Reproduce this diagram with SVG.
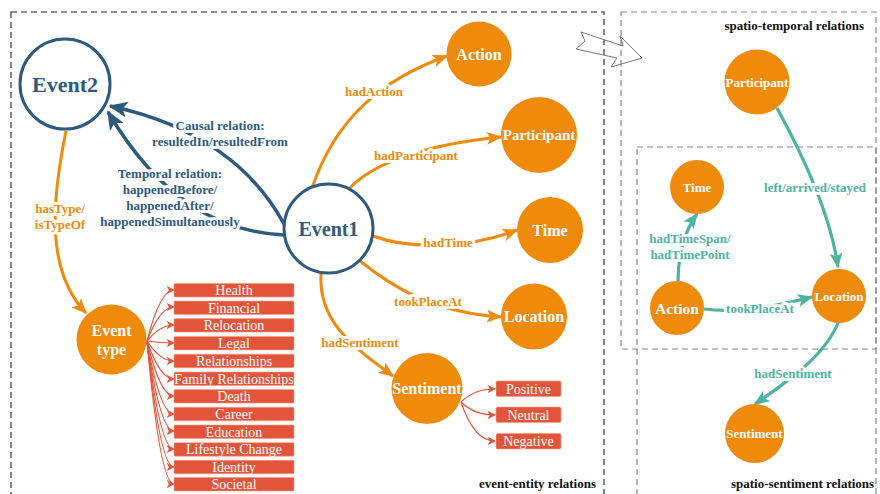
<svg xmlns="http://www.w3.org/2000/svg" width="880" height="494" viewBox="0 0 880 494">
<style>
.frameL{fill:none;stroke:#222;stroke-width:1.1;stroke-dasharray:6 4}
.frameR{fill:none;stroke:#888;stroke-width:1.2;stroke-dasharray:6 4}
.title{font-family:"Liberation Serif",serif;font-weight:bold;font-size:13px;fill:#111}
.nav{fill:#fff;stroke:#2d5a7d;stroke-width:3}
.navT{font-family:"Liberation Serif",serif;font-weight:bold;fill:#2d5a7d;text-anchor:middle}
.org{fill:#ef8a0b}
.nodeT{font-family:"Liberation Serif",serif;font-weight:bold;fill:#fff;text-anchor:middle}
.cat{fill:#e2553b;stroke:#f3a08f;stroke-width:0.6}
.catT{font-family:"Liberation Serif",serif;font-size:14px;fill:#fff;text-anchor:middle}
.eN{fill:none;stroke:#2d5a7d;stroke-width:3.5}
.eO{fill:none;stroke:#ef8a0b;stroke-width:3}
.eT{fill:none;stroke:#4db3a0;stroke-width:3.2}
.eR{fill:none;stroke:#e2553b;stroke-width:1.2}
.lab{font-family:"Liberation Serif",serif;font-weight:bold;font-size:13px;text-anchor:middle;stroke:#fff;stroke-width:6;paint-order:stroke;stroke-linejoin:round}
.lN{fill:#2d5a7d}
.lO{fill:#ef8a0b}
.lT{fill:#4db3a0}
</style>
<defs>
<marker id="aN" viewBox="0 0 12 10" refX="11" refY="5" markerWidth="20" markerHeight="16" orient="auto" markerUnits="userSpaceOnUse"><path d="M0,0 L12,5 L0,10 L3,5 z" fill="#2d5a7d"/></marker>
<marker id="aO" viewBox="0 0 12 10" refX="11" refY="5" markerWidth="16" markerHeight="13" orient="auto" markerUnits="userSpaceOnUse"><path d="M0,0 L12,5 L0,10 L3,5 z" fill="#ef8a0b"/></marker>
<marker id="aT" viewBox="0 0 12 10" refX="11" refY="5" markerWidth="16" markerHeight="13" orient="auto" markerUnits="userSpaceOnUse"><path d="M0,0 L12,5 L0,10 L3,5 z" fill="#4db3a0"/></marker>
<marker id="aR" viewBox="0 0 10 10" refX="9" refY="5" markerWidth="8" markerHeight="8" orient="auto" markerUnits="userSpaceOnUse"><path d="M0,0 L10,5 L0,10 L2.5,5 z" fill="#e2553b"/></marker>
</defs>
<rect width="880" height="494" fill="#fff"/>

<g id="frames">
<rect class="frameL" x="11" y="12" width="593" height="500"/>
<rect class="frameR" x="621" y="12" width="255" height="337"/>
<rect class="frameR" x="637" y="147" width="239" height="370"/>
<polygon points="581,32 585,41 576,49 617,58 611,67 642,58 620,36 623,46" fill="none" stroke="#777" stroke-width="1"/>
<text class="title" x="864" y="30" text-anchor="end">spatio-temporal relations</text>
<text class="title" x="596" y="488" text-anchor="end">event-entity relations</text>
<text class="title" x="731" y="488">spatio-sentiment relations</text>
</g>

<g id="connectors">
<path class="eN" d="M284 224 C255 170 200 125 110 106" marker-end="url(#aN)"/>
<path class="eN" d="M284 235 C220 232 160 200 108 112" marker-end="url(#aN)"/>
<path class="eO" d="M66 131 C52 200 45 270 86 313" marker-end="url(#aO)"/>
<path class="eO" d="M312 188 C335 120 380 80 447 56" marker-end="url(#aO)"/>
<path class="eO" d="M348 190 C370 165 420 145 501 137" marker-end="url(#aO)"/>
<path class="eO" d="M373 236 C410 250 470 248 517 230" marker-end="url(#aO)"/>
<path class="eO" d="M360 261 C390 285 430 312 501 317" marker-end="url(#aO)"/>
<path class="eO" d="M321 273 C318 320 350 345 393 376" marker-end="url(#aO)"/>
<path class="eR" d="M147 341 Q160 290 174 290" marker-end="url(#aR)"/>
<path class="eR" d="M147 341 Q160 307 174 307" marker-end="url(#aR)"/>
<path class="eR" d="M147 341 Q160 325 174 325" marker-end="url(#aR)"/>
<path class="eR" d="M147 341 Q160 343 174 343" marker-end="url(#aR)"/>
<path class="eR" d="M147 341 Q160 361 174 361" marker-end="url(#aR)"/>
<path class="eR" d="M147 341 Q160 379 174 379" marker-end="url(#aR)"/>
<path class="eR" d="M147 341 Q160 396 174 396" marker-end="url(#aR)"/>
<path class="eR" d="M147 341 Q160 414 174 414" marker-end="url(#aR)"/>
<path class="eR" d="M147 341 Q160 431 174 431" marker-end="url(#aR)"/>
<path class="eR" d="M147 341 Q160 449 174 449" marker-end="url(#aR)"/>
<path class="eR" d="M147 341 Q160 467 174 467" marker-end="url(#aR)"/>
<path class="eR" d="M147 341 Q160 484 174 484" marker-end="url(#aR)"/>
<path class="eR" d="M461 402 Q474 389 495 389" marker-end="url(#aR)"/>
<path class="eR" d="M461 402 Q474 415 495 415" marker-end="url(#aR)"/>
<path class="eR" d="M461 402 Q474 441 495 441" marker-end="url(#aR)"/>
<path class="eT" d="M777 108 C800 150 830 210 838 267" marker-end="url(#aT)"/>
<path class="eT" d="M678 281 C678 255 685 230 697 214" marker-end="url(#aT)"/>
<path class="eT" d="M704 309 C740 314 780 305 812 297" marker-end="url(#aT)"/>
<path class="eT" d="M838 323 C825 355 790 380 755 404" marker-end="url(#aT)"/>
<text class="lab lN" x="220" y="130">Causal relation:</text>
<text class="lab lN" x="220" y="146">resultedIn/resultedFrom</text>
<text class="lab lN" x="170" y="178">Temporal relation:</text>
<text class="lab lN" x="170" y="194">happenedBefore/</text>
<text class="lab lN" x="170" y="210">happenedAfter/</text>
<text class="lab lN" x="170" y="226">happenedSimultaneously</text>
<text class="lab lO" x="60" y="213">hasType/</text>
<text class="lab lO" x="60" y="229">isTypeOf</text>
<text class="lab lO" x="374" y="96">hadAction</text>
<text class="lab lO" x="416" y="160">hadParticipant</text>
<text class="lab lO" x="448" y="247">hadTime</text>
<text class="lab lO" x="428" y="306">tookPlaceAt</text>
<text class="lab lO" x="360" y="347">hadSentiment</text>
<text class="lab lT" x="815" y="192">left/arrived/stayed</text>
<text class="lab lT" x="690" y="243">hadTimeSpan/</text>
<text class="lab lT" x="690" y="259">hadTimePoint</text>
<text class="lab lT" x="760" y="313">tookPlaceAt</text>
<text class="lab lT" x="793" y="378">hadSentiment</text>
</g>

<g id="event2"><circle class="nav" cx="65" cy="84" r="45"/><text class="navT" x="65" y="92" font-size="22">Event2</text></g>
<g id="event1"><circle class="nav" cx="328.5" cy="228.5" r="44.5"/><text class="navT" x="328.5" y="236" font-size="20">Event1</text></g>
<g id="action"><circle class="org" cx="479" cy="54" r="32.5"/><text class="nodeT" x="479" y="60" font-size="16">Action</text></g>
<g id="participant"><circle class="org" cx="539" cy="135" r="38"/><text class="nodeT" x="539" y="140" font-size="15">Participant</text></g>
<g id="time"><circle class="org" cx="550" cy="230" r="33"/><text class="nodeT" x="550" y="236" font-size="16">Time</text></g>
<g id="location"><circle class="org" cx="534" cy="316.5" r="33"/><text class="nodeT" x="534" y="322" font-size="16">Location</text></g>
<g id="sentiment"><circle class="org" cx="427" cy="388.5" r="35.5"/><text class="nodeT" x="427" y="394" font-size="16">Sentiment</text></g>
<g id="eventtype"><circle class="org" cx="111.5" cy="339.5" r="35"/><text class="nodeT" x="111.5" y="336" font-size="16">Event</text><text class="nodeT" x="111.5" y="355" font-size="16">type</text></g>

<g id="categories">
<rect class="cat" x="174" y="283.5" width="120" height="13.5" rx="1"/><text class="catT" x="234" y="295">Health</text>
<rect class="cat" x="174" y="301" width="120" height="13.5" rx="1"/><text class="catT" x="234" y="312.5">Financial</text>
<rect class="cat" x="174" y="318.6" width="120" height="13.5" rx="1"/><text class="catT" x="234" y="330">Relocation</text>
<rect class="cat" x="174" y="336.4" width="120" height="13.5" rx="1"/><text class="catT" x="234" y="348">Legal</text>
<rect class="cat" x="174" y="354.2" width="120" height="13.5" rx="1"/><text class="catT" x="234" y="365.5">Relationships</text>
<rect class="cat" x="174" y="372" width="120" height="13.5" rx="1"/><text class="catT" x="234" y="383.5">Family Relationships</text>
<rect class="cat" x="174" y="389.6" width="120" height="13.5" rx="1"/><text class="catT" x="234" y="401">Death</text>
<rect class="cat" x="174" y="407.3" width="120" height="13.5" rx="1"/><text class="catT" x="234" y="418.5">Career</text>
<rect class="cat" x="174" y="425" width="120" height="13.5" rx="1"/><text class="catT" x="234" y="436.5">Education</text>
<rect class="cat" x="174" y="442.7" width="120" height="13.5" rx="1"/><text class="catT" x="234" y="454">Lifestyle Change</text>
<rect class="cat" x="174" y="460.3" width="120" height="13.5" rx="1"/><text class="catT" x="234" y="471.5">Identity</text>
<rect class="cat" x="174" y="477.5" width="120" height="13.5" rx="1"/><text class="catT" x="234" y="489">Societal</text>
</g>
<g id="sentimentvalues">
<rect class="cat" x="496" y="381" width="65" height="15.5" rx="1.5"/><text class="catT" x="528.5" y="393.5">Positive</text>
<rect class="cat" x="496" y="407" width="65" height="15.5" rx="1.5"/><text class="catT" x="528.5" y="419.5">Neutral</text>
<rect class="cat" x="496" y="433.5" width="65" height="15.5" rx="1.5"/><text class="catT" x="528.5" y="446">Negative</text>
</g>

<g id="r-participant"><circle class="org" cx="757" cy="82" r="32.5"/><text class="nodeT" x="757" y="86.5" font-size="13">Participant</text></g>
<g id="r-time"><circle class="org" cx="697" cy="187" r="27"/><text class="nodeT" x="697" y="191.5" font-size="13">Time</text></g>
<g id="r-action"><circle class="org" cx="677" cy="308" r="27"/><text class="nodeT" x="677" y="313.5" font-size="15.5">Action</text></g>
<g id="r-location"><circle class="org" cx="839" cy="296" r="27"/><text class="nodeT" x="839" y="300.5" font-size="13">Location</text></g>
<g id="r-sentiment"><circle class="org" cx="754.5" cy="433.5" r="29.5"/><text class="nodeT" x="754.5" y="438" font-size="13">Sentiment</text></g>
</svg>
